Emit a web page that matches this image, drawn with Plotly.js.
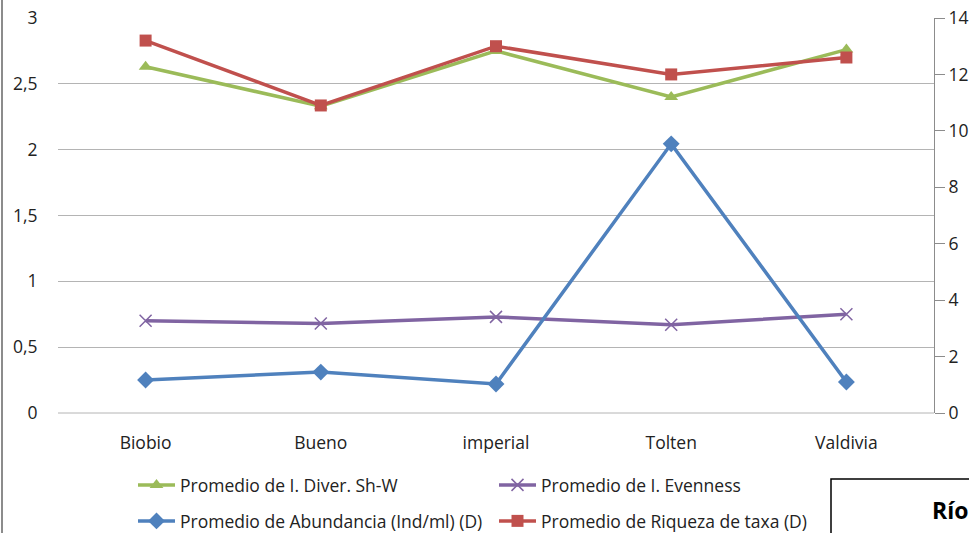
<!DOCTYPE html>
<html><head><meta charset="utf-8">
<script src="https://cdn.plot.ly/plotly-3.0.1.min.js"></script>
<style>html,body{margin:0;padding:0;background:#fff}#c{width:969px;height:533px}</style>
</head><body><div id="c"></div>
<script>
const categories = ["Biobio", "Bueno", "imperial", "Tolten", "Valdivia"];
const diverShW = [2.63, 2.33, 2.75, 2.40, 2.76];
const evenness = [0.70, 0.68, 0.73, 0.67, 0.75];
const abundancia = [1.17, 1.45, 1.03, 9.54, 1.10];
const riqueza = [13.2, 10.9, 13.0, 12.0, 12.6];
const leftTicks = [0, 0.5, 1, 1.5, 2, 2.5, 3];
const leftTickText = ["0", "0,5", "1", "1,5", "2", "2,5", "3"];
const rightTicks = [0, 2, 4, 6, 8, 10, 12, 14];
const names = ["Promedio de I. Diver. Sh-W", "Promedio de I. Evenness",
  "Promedio de Abundancia (Ind/ml) (D)", "Promedio de Riqueza de taxa (D)"];

const FONT = "Open Sans, Roboto, Arial, sans-serif";
const traces = [
  {x: categories, y: diverShW, name: names[0], yaxis: "y", legend: "legend",
   mode: "lines+markers", line: {color: "#9BBB59", width: 3.5},
   marker: {symbol: "triangle-up", size: 12, color: "#9BBB59"}},
  {x: categories, y: evenness, name: names[1], yaxis: "y", legend: "legend",
   mode: "lines+markers", line: {color: "#8064A2", width: 3.5},
   marker: {symbol: "x-thin-open", size: 12, color: "#8064A2", line: {width: 1.5, color: "#8064A2"}}},
  {x: categories, y: abundancia, name: names[2], yaxis: "y2", legend: "legend2",
   mode: "lines+markers", line: {color: "#4F81BD", width: 3.5},
   marker: {symbol: "diamond", size: 13, color: "#4F81BD"}},
  {x: categories, y: riqueza, name: names[3], yaxis: "y2", legend: "legend2",
   mode: "lines+markers", line: {color: "#C0504D", width: 3.5},
   marker: {symbol: "square", size: 12, color: "#C0504D"}}
];
const PW = 876, PL = 58, PH = 395, PB = 413;
function px(x){return (x-PL)/PW;}
function py(y){return (PB-y)/PH;}
const legendCommon = {orientation: "h", xanchor: "left", yanchor: "middle",
  font: {family: FONT, size: 17.5, color: "#222"}, entrywidth: 309, entrywidthmode: "pixels",
  itemwidth: 37, bgcolor: "rgba(0,0,0,0)", itemclick: false};
const layout = {
  width: 969, height: 533,
  margin: {l: 58, r: 35, t: 18, b: 120, autoexpand: false},
  paper_bgcolor: "#fff", plot_bgcolor: "#fff",
  showlegend: true,
  font: {family: FONT, size: 17, color: "#222"},
  xaxis: {type: "category", range: [-0.5, 4.5], showgrid: false, zeroline: false,
    showline: false, ticks: "outside", ticklen: 14, tickcolor: "rgba(0,0,0,0)",
    tickfont: {family: FONT, size: 17.5, color: "#222"}},
  yaxis: {range: [0, 3], tickvals: leftTicks, ticktext: leftTickText, showgrid: true,
    gridcolor: "#b4b4b4", gridwidth: 1, zeroline: false, showline: false,
    ticks: "outside", ticklen: 16, tickcolor: "rgba(0,0,0,0)",
    tickfont: {family: FONT, size: 17.5, color: "#222"}},
  yaxis2: {range: [0, 14], tickvals: rightTicks, overlaying: "y", side: "right",
    showgrid: false, zeroline: false, showline: true, linecolor: "#8c8c8c", linewidth: 1,
    ticks: "outside", ticklen: 10, tickcolor: "#8c8c8c",
    tickfont: {family: FONT, size: 17.5, color: "#222"}},
  legend: Object.assign({}, legendCommon, {x: px(133), y: py(485)}),
  legend2: Object.assign({}, legendCommon, {x: px(133), y: py(521)}),
  shapes: [
    {type: "line", xref: "paper", yref: "paper", x0: px(2), x1: px(2), y0: py(545), y1: py(-10),
     line: {color: "#8c8c8c", width: 2}},
    {type: "line", xref: "paper", yref: "paper", x0: 0, x1: 1, y0: 0, y1: 0,
     line: {color: "#b4b4b4", width: 1}},
    {type: "rect", xref: "paper", yref: "paper", x0: px(831), x1: px(990), y0: py(545), y1: py(479),
     line: {color: "#000", width: 1.5}, fillcolor: "#fff"}
  ],
  annotations: [
    {xref: "paper", yref: "paper", x: px(930), y: py(510), xanchor: "left", yanchor: "middle",
     text: "<b>Ríos</b>", showarrow: false, font: {family: "Open Sans, Arial, sans-serif", size: 23, color: "#000"}}
  ]
};
Plotly.newPlot("c", traces, layout, {displayModeBar: false, staticPlot: true});
</script></body></html>
